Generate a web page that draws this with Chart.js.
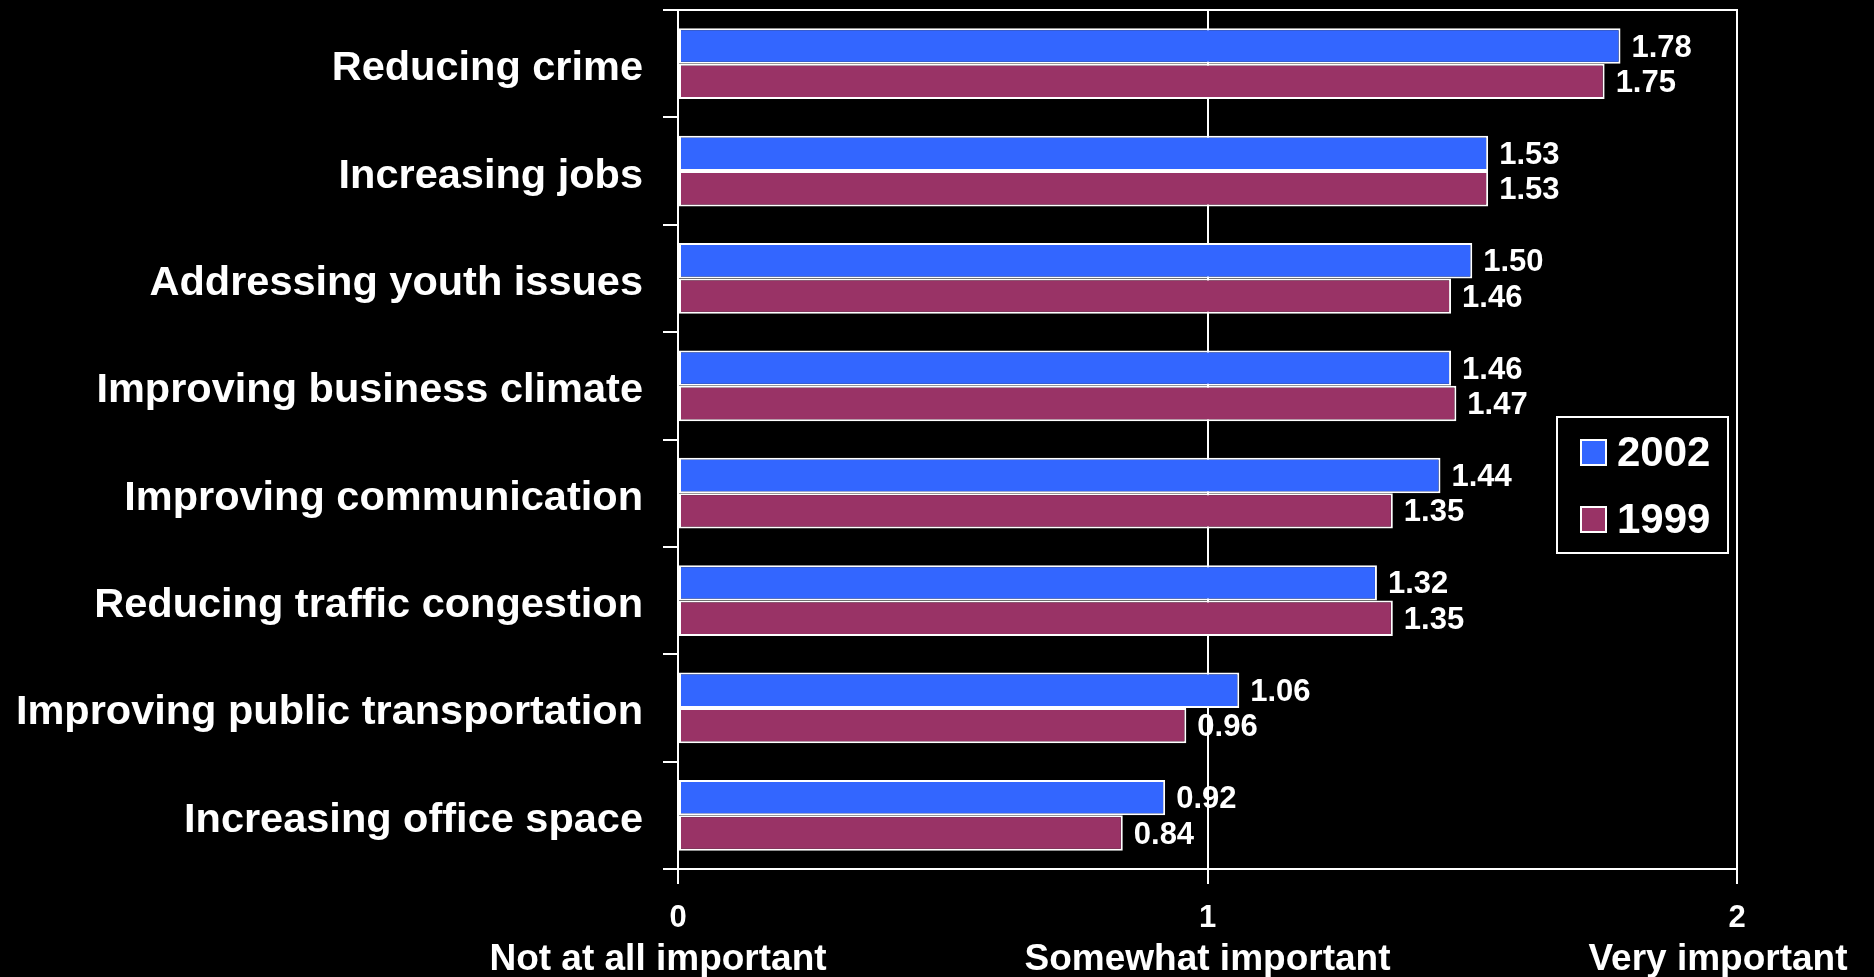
<!DOCTYPE html>
<html>
<head>
<meta charset="utf-8">
<script src="https://cdn.jsdelivr.net/npm/chart.js@4"></script>
<style>
  html, body { margin: 0; padding: 0; background: #000; }
  #wrap { width: 1874px; height: 977px; }
</style>
</head>
<body>
<div id="wrap"><canvas id="barChart"></canvas></div>
<script>
const categories = ['Reducing crime', 'Increasing jobs', 'Addressing youth issues', 'Improving business climate',
    'Improving communication', 'Reducing traffic congestion', 'Improving public transportation', 'Increasing office space'];
const values2002 = [1.78, 1.53, 1.50, 1.46, 1.44, 1.32, 1.06, 0.92];
const values1999 = [1.75, 1.53, 1.46, 1.47, 1.35, 1.35, 0.96, 0.84];
const seriesNames = ['2002', '1999'];
const scaleTicks = [0, 1, 2];
const scaleNames = ['Not at all important', 'Somewhat important', 'Very important'];

const FONT = "Arial, 'Liberation Sans', sans-serif";

// Werte rechts neben den Balken
const ValueLabels = {
    id: 'valueLabels',
    afterDatasetsDraw(chart){
        const {ctx} = chart;
        ctx.save();
        ctx.font = 'bold 31px ' + FONT;
        ctx.fillStyle = '#fff';
        ctx.textAlign = 'left';
        ctx.textBaseline = 'middle';
        chart.data.datasets.forEach((ds, i) => {
            chart.getDatasetMeta(i).data.forEach((bar, j) => {
                ctx.fillText(ds.data[j].toFixed(2), bar.x + 11, bar.y + 2);
            });
        });
        ctx.restore();
    }
};

// Rahmen oben, Kategorien links, Skalen-Texte unten, Legende im Diagramm
const Frame = {
    id: 'frame',
    afterDraw(chart){
        const {ctx, chartArea, scales} = chart;
        ctx.save();
        ctx.strokeStyle = '#fff';
        ctx.lineWidth = 2;
        ctx.beginPath();
        ctx.moveTo(chartArea.left - 15, chartArea.top);
        ctx.lineTo(chartArea.right + 1, chartArea.top);
        ctx.stroke();

        ctx.fillStyle = '#fff';
        ctx.textBaseline = 'middle';

        // Kategorienamen
        ctx.font = 'bold 41.5px ' + FONT;
        ctx.textAlign = 'right';
        chart.data.labels.forEach((lab, i) => {
            ctx.fillText(lab, chartArea.left - 35, scales.y.getPixelForTick(i) + 5);
        });

        ctx.font = 'bold 37px ' + FONT;
        ctx.textAlign = 'center';
        const shift = [-20, 0, -19];
        scaleTicks.forEach((t, i) => {
            ctx.fillText(scaleNames[i], scales.x.getPixelForValue(t) + shift[i], chartArea.bottom + 91);
        });

        // Legende
        const lx = chartArea.right - 180, ly = 417;
        ctx.strokeRect(lx, ly, 171, 136);
        ctx.font = 'bold 42px ' + FONT;
        ctx.textAlign = 'left';
        chart.data.datasets.forEach((ds, i) => {
            const cy = ly + 35 + i * 67;
            ctx.fillStyle = ds.backgroundColor;
            ctx.fillRect(lx + 24, cy - 12, 25, 25);
            ctx.strokeRect(lx + 24, cy - 12, 25, 25);
            ctx.fillStyle = '#fff';
            ctx.fillText(ds.label, lx + 60, cy + 2);
        });
        ctx.restore();
    }
};

const data = {
    labels: categories,
    datasets: [{
        label: seriesNames[0],
        data: values2002,
        backgroundColor: '#3366FF',
        borderColor: '#fff',
        borderWidth: 2,
        borderSkipped: false
    }, {
        label: seriesNames[1],
        data: values1999,
        backgroundColor: '#993366',
        borderColor: '#fff',
        borderWidth: 2,
        borderSkipped: false
    }]
};

const options = {
    indexAxis: 'y',
    responsive: true,
    maintainAspectRatio: false,
    animation: false,
    layout: { padding: { top: 10, right: 137, left: 0, bottom: 0 } },
    datasets: { bar: { categoryPercentage: 0.66, barPercentage: 1.0 } },
    plugins: {
        legend: { display: false },
        tooltip: { enabled: false }
    },
    scales: {
        x: {
            min: 0,
            max: 2,
            afterFit(scale){ scale.height = 108; },
            afterBuildTicks(scale){ scale.ticks = scaleTicks.map(v => ({value: v})); },
            ticks: {
                color: '#fff',
                font: { family: FONT, size: 31, weight: 'bold' },
                padding: 16,
                maxRotation: 0
            },
            grid: { color: '#fff', lineWidth: 2, tickLength: 15 },
            border: { color: '#fff', width: 2 }
        },
        y: {
            afterFit(scale){
                scale.width = 678;
                scale.paddingTop = 0;
                scale.paddingBottom = 0;
            },
            ticks: { display: false },
            grid: { display: true, drawOnChartArea: false, color: '#fff', lineWidth: 2, tickLength: 15, offset: true },
            border: { color: '#fff', width: 2 }
        }
    }
};

new Chart(document.getElementById('barChart'), {
    type: 'bar',
    data: data,
    options: options,
    plugins: [ValueLabels, Frame]
});
</script>
</body>
</html>
